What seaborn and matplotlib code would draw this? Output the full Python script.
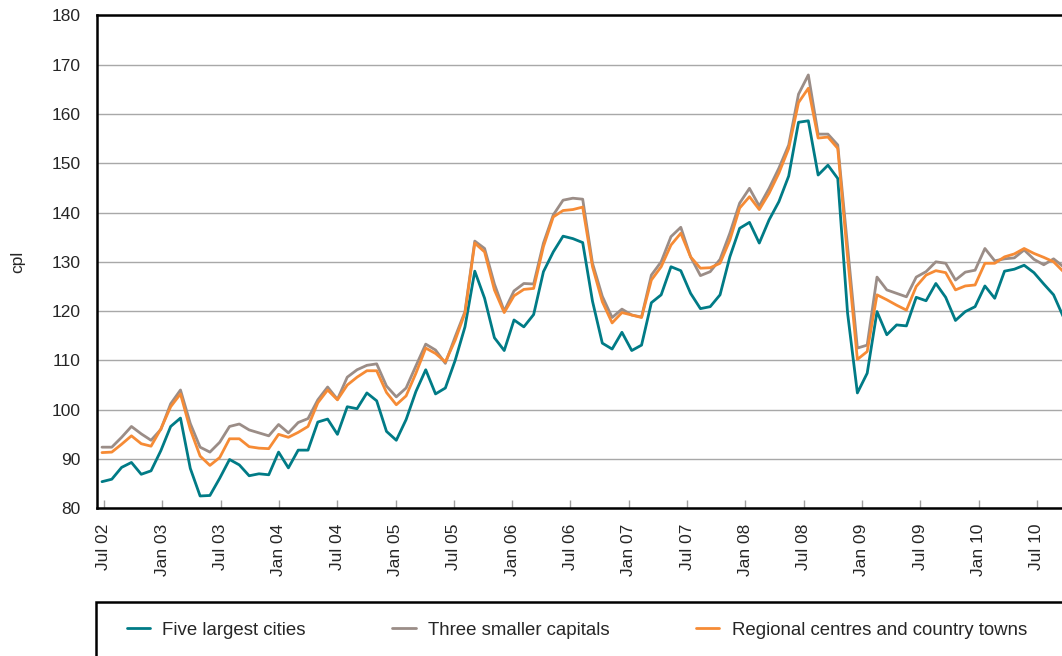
import numpy as np
import pandas as pd
import seaborn as sns
import matplotlib.pyplot as plt
from matplotlib.patches import Rectangle

# Monthly average prices (cpl), Jul 2002 - Sep 2010
months = pd.date_range('2002-07-01', '2010-09-01', freq='MS')

five_largest = [
    85.4, 85.9, 88.3, 89.3, 86.9, 87.6, 91.7, 96.6, 98.3, 88.1, 82.5, 82.6,
    86.1, 89.9, 88.8, 86.6, 87.0, 86.8, 91.4, 88.2, 91.8, 91.8, 97.5, 98.1,
    95.0, 100.6, 100.2, 103.4, 101.8, 95.6, 93.8, 98.0, 103.7, 108.1, 103.2, 104.4,
    110.0, 116.8, 128.1, 122.6, 114.6, 112.0, 118.2, 116.8, 119.3, 128.0, 132.0, 135.2,
    134.7, 133.9, 122.0, 113.5, 112.3, 115.7, 112.0, 113.1, 121.7, 123.3, 129.0, 128.2,
    123.6, 120.5, 120.9, 123.3, 131.0, 136.8, 138.0, 133.8, 138.5, 142.2, 147.4, 158.3,
    158.6, 147.6, 149.6, 146.9, 119.6, 103.4, 107.4, 119.9, 115.2, 117.2, 117.0, 122.8,
    122.1, 125.6, 122.8, 118.1, 119.9, 120.9, 125.1, 122.6, 128.1, 128.5, 129.3, 127.8,
    125.5, 123.3, 118.8,
]
smaller_capitals = [
    92.4, 92.4, 94.4, 96.6, 95.1, 93.8, 96.0, 101.2, 104.0, 97.2, 92.4, 91.4,
    93.4, 96.6, 97.1, 95.9, 95.3, 94.7, 97.0, 95.3, 97.4, 98.2, 102.0, 104.6,
    102.1, 106.6, 108.1, 109.0, 109.3, 104.8, 102.6, 104.4, 108.9, 113.3, 112.1, 109.4,
    114.8, 119.9, 134.2, 132.7, 125.5, 120.0, 124.1, 125.6, 125.5, 133.8, 139.5, 142.5,
    142.9, 142.7, 129.7, 123.0, 118.7, 120.4, 119.2, 118.8, 127.3, 130.0, 135.1, 137.0,
    131.0, 127.2, 128.0, 130.5, 135.8, 141.9, 144.9, 141.3, 144.9, 149.0, 153.7, 164.0,
    167.9, 155.9, 155.9, 153.7, 133.1, 112.5, 113.1, 126.9, 124.3, 123.6, 122.9, 126.9,
    128.0, 130.0, 129.7, 126.3, 127.9, 128.3, 132.7, 130.2, 130.6, 130.8, 132.4, 130.5,
    129.4, 130.6, 129.0,
]
regional = [
    91.3, 91.4, 93.0, 94.7, 93.1, 92.6, 96.1, 100.6, 103.2, 96.0, 90.6, 88.7,
    90.3, 94.1, 94.1, 92.5, 92.2, 92.1, 95.0, 94.4, 95.4, 96.6, 101.4, 104.0,
    102.0, 105.0, 106.6, 107.9, 107.9, 103.5, 101.0, 102.8, 107.4, 112.5, 111.4, 109.7,
    114.1, 119.6, 133.8, 132.0, 124.3, 119.7, 123.1, 124.4, 124.6, 133.1, 139.1, 140.4,
    140.6, 141.1, 129.0, 121.9, 117.6, 119.7, 119.2, 118.7, 126.3, 129.0, 133.4, 135.8,
    131.0, 128.7, 128.8, 129.7, 134.4, 140.9, 143.2, 140.6, 143.9, 148.0, 153.0, 162.3,
    165.2, 155.1, 155.3, 153.0, 131.0, 110.2, 111.8, 123.3, 122.3, 121.2, 120.2, 125.0,
    127.3, 128.2, 127.8, 124.3, 125.1, 125.3, 129.7, 129.7, 131.0, 131.6, 132.7, 131.7,
    130.9, 130.0, 128.0,
]

series_names = ['Five largest cities', 'Three smaller capitals',
                'Regional centres and country towns']
colors = ['#007b86', '#9b8d87', '#f68b35']
tick_labels = ['Jul 02', 'Jan 03', 'Jul 03', 'Jan 04', 'Jul 04', 'Jan 05', 'Jul 05',
               'Jan 06', 'Jul 06', 'Jan 07', 'Jul 07', 'Jan 08', 'Jul 08', 'Jan 09',
               'Jul 09', 'Jan 10', 'Jul 10']

# long format for seaborn
idx = np.arange(len(months))
df = pd.concat([
    pd.DataFrame({'month': idx, 'cpl': vals, 'series': name})
    for name, vals in zip(series_names, [five_largest, smaller_capitals, regional])
], ignore_index=True)

sns.set_style('white')
plt.rcParams['font.family'] = ['Liberation Sans', 'DejaVu Sans']

W, H = 1062, 656
fig = plt.figure(figsize=(W / 100, H / 100), dpi=100)
# axes runs slightly past the right edge of the picture, as in the source
ax = fig.add_axes([96.7 / W, 1 - 508.3 / H, 971.2 / W, 493.0 / H])

sns.lineplot(data=df, x='month', y='cpl', hue='series', hue_order=series_names,
             palette=dict(zip(series_names, colors)), linewidth=2.0,
             errorbar=None, ax=ax)

ax.set_xlim(-0.54, len(months) - 0.54)
ax.set_ylim(80, 180)
ax.set_yticks(np.arange(80, 181, 10))
ax.yaxis.grid(True, color='#a8a8a8', linewidth=1.0)
ax.set_axisbelow(True)

# labels in the source sit a touch tighter than 6 months apart
ax.set_xticks(np.linspace(0.2, 95.3, len(tick_labels)))
ax.set_xticklabels(tick_labels, rotation=90, fontsize=12.5)
ax.tick_params(axis='x', direction='in', length=6, width=1, color='#a0a0a0',
               pad=11.3, bottom=True)
ax.tick_params(axis='y', length=0, pad=11.5, labelsize=12.5)
ax.set_xlabel('')
ax.set_ylabel('')
fig.text(18 / W, 1 - 261.7 / H, 'cpl', rotation=90, ha='center', va='center',
         fontsize=12.5)

for side in ['left', 'top', 'bottom', 'right']:
    ax.spines[side].set_color('black')
    ax.spines[side].set_linewidth(1.8)

handles, labels = ax.get_legend_handles_labels()
ax.get_legend().remove()
fig.legend(handles, labels, loc='center left',
           bbox_to_anchor=(126.7 / W, 1 - 630 / H), ncol=3, frameon=False,
           fontsize=13.4, borderpad=0, borderaxespad=0, handlelength=1.24,
           handletextpad=0.65, columnspacing=4.68)
fig.add_artist(Rectangle((95.7 / W, -0.2), 1.2, 0.2 + 1 - 601.7 / H,
                         transform=fig.transFigure, fill=False,
                         edgecolor='black', linewidth=1.8))

fig.savefig('out.png', dpi=100)
